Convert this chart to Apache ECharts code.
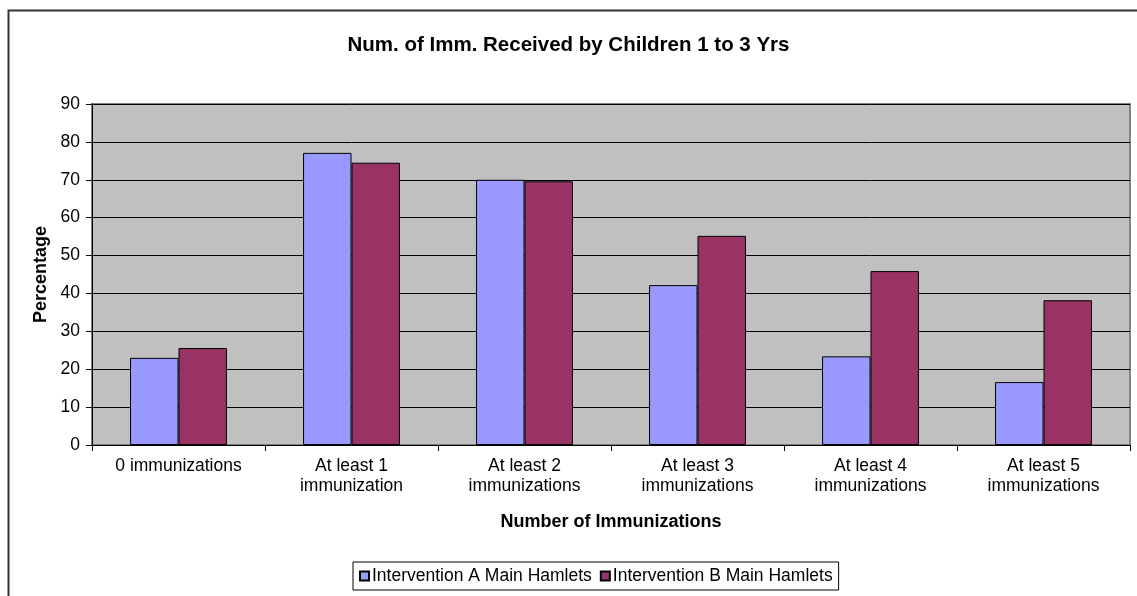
<!DOCTYPE html>
<html>
<head>
<meta charset="utf-8">
<script src="https://cdn.jsdelivr.net/npm/echarts@6/dist/echarts.min.js"></script>
<style>
html,body{margin:0;padding:0;background:#fff;}
#c{width:1137px;height:596px;}
</style>
</head>
<body>
<div id="c"></div>
<script>
const categories = ["0 immunizations", "At least 1\nimmunization", "At least 2\nimmunizations", "At least 3\nimmunizations", "At least 4\nimmunizations", "At least 5\nimmunizations"];
const seriesA = [23.0, 77.1, 70.0, 42.2, 23.4, 16.6];
const seriesB = [25.6, 74.5, 69.6, 55.2, 45.9, 38.2];
const seriesNames = ["Intervention A Main Hamlets", "Intervention B Main Hamlets"];
const yTicks = {min: 0, max: 90, interval: 10};

const FONT = "'Liberation Sans', Arial, sans-serif";
const chart = echarts.init(document.getElementById('c'), null, {renderer: 'canvas'});
chart.setOption({
  animation: false,
  backgroundColor: '#fff',
  graphic: [{
    type: 'rect', left: 6, top: 8, z: 0,
    shape: {x: 0, y: 0, width: 1200, height: 700},
    style: {fill: 'none', stroke: '#333', lineWidth: 2}
  }],
  title: {
    text: 'Num. of Imm. Received by Children 1 to 3 Yrs',
    left: 'center', top: 30,
    textStyle: {fontFamily: FONT, fontSize: 20.5, fontWeight: 'bold', color: '#000'}
  },
  legend: {
    data: seriesNames,
    left: 353, top: 562,
    orient: 'horizontal',
    borderColor: '#000', borderWidth: 1,
    padding: [5, 6, 5, 6],
    itemWidth: 9, itemHeight: 9, itemGap: 8,
    icon: 'rect',
    textStyle: {fontFamily: FONT, fontSize: 17.5, color: '#000', padding: [0, 0, 0, -2]}
  },
  grid: {
    left: 92, right: 7, top: 104, bottom: 151,
    show: true, backgroundColor: '#C0C0C0', borderColor: '#808080', borderWidth: 2
  },
  xAxis: {
    type: 'category',
    data: categories,
    name: 'Number of Immunizations',
    nameLocation: 'middle',
    nameGap: 68,
    nameTextStyle: {fontFamily: FONT, fontSize: 18, fontWeight: 'bold', color: '#000'},
    axisLine: {lineStyle: {color: '#000', width: 1}},
    axisTick: {show: true, length: 6, lineStyle: {color: '#000'}},
    axisLabel: {fontFamily: FONT, fontSize: 17.5, color: '#000', lineHeight: 20, margin: 11, interval: 0}
  },
  yAxis: {
    type: 'value',
    min: yTicks.min, max: yTicks.max, interval: yTicks.interval,
    name: 'Percentage',
    nameLocation: 'middle',
    nameGap: 42,
    nameRotate: 90,
    nameTextStyle: {fontFamily: FONT, fontSize: 18, fontWeight: 'bold', color: '#000'},
    axisLine: {show: true, lineStyle: {color: '#000', width: 1}},
    axisTick: {show: true, length: 6, lineStyle: {color: '#000'}},
    axisLabel: {fontFamily: FONT, fontSize: 17.5, color: '#000', margin: 12},
    splitLine: {show: true, lineStyle: {color: '#000', width: 1}}
  },
  series: [
    {
      name: seriesNames[0], type: 'bar', data: seriesA,
      barGap: '0%', barCategoryGap: '44%',
      itemStyle: {color: '#9999FF', borderColor: '#000', borderWidth: 1}
    },
    {
      name: seriesNames[1], type: 'bar', data: seriesB,
      barGap: '0%', barCategoryGap: '44%',
      itemStyle: {color: '#993366', borderColor: '#000', borderWidth: 1}
    }
  ]
});
</script>
</body>
</html>
